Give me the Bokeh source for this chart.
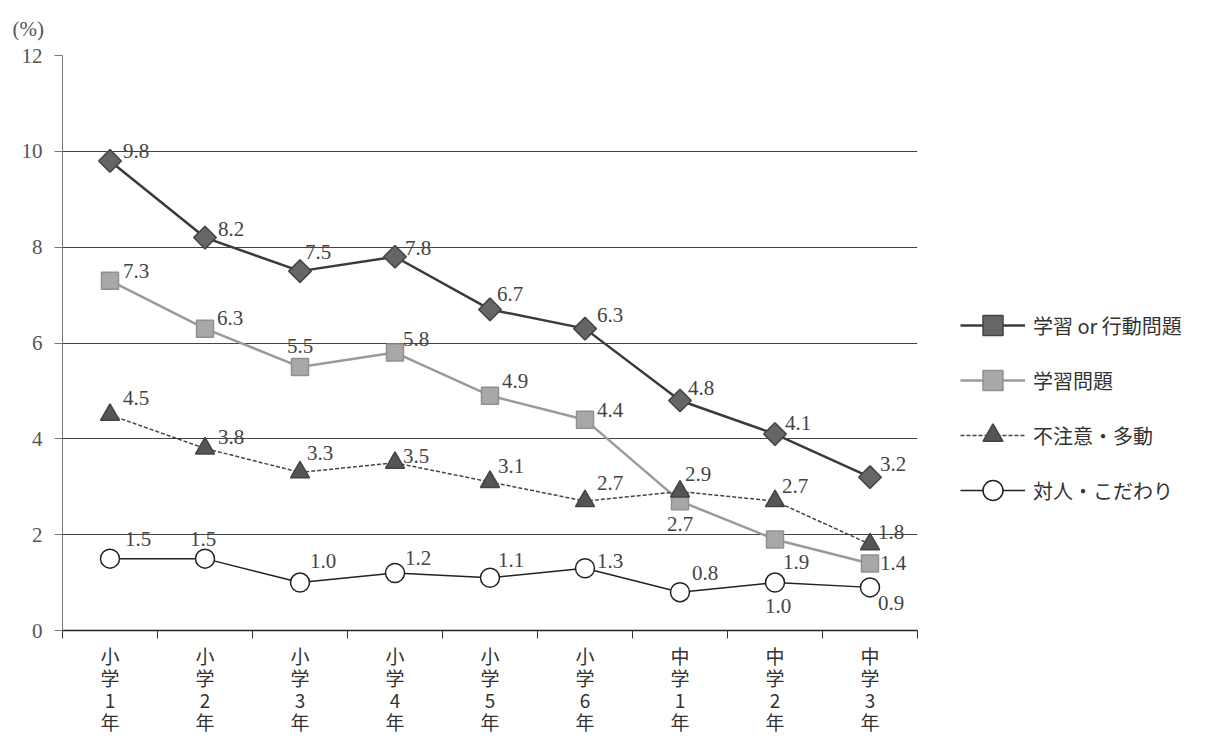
from bokeh.plotting import figure
from bokeh.models import (ColumnDataSource, FixedTicker, Legend, LegendItem,
                          Range1d)
from bokeh.core.properties import value
from bokeh.embed import file_html
from bokeh.resources import INLINE
import numpy as np

# School grades (elementary 1-6, junior high 1-3)
grades = ["小\n学\n1\n年", "小\n学\n2\n年", "小\n学\n3\n年", "小\n学\n4\n年",
          "小\n学\n5\n年", "小\n学\n6\n年", "中\n学\n1\n年", "中\n学\n2\n年",
          "中\n学\n3\n年"]

# Share of pupils (%) per category
learn_or_behavior = [9.8, 8.2, 7.5, 7.8, 6.7, 6.3, 4.8, 4.1, 3.2]
learning = [7.3, 6.3, 5.5, 5.8, 4.9, 4.4, 2.7, 1.9, 1.4]
inattention = [4.5, 3.8, 3.3, 3.5, 3.1, 2.7, 2.9, 2.7, 1.8]
social = [1.5, 1.5, 1.0, 1.2, 1.1, 1.3, 0.8, 1.0, 0.9]

series_names = ["学習 or 行動問題", "学習問題", "不注意・多動", "対人・こだわり"]

# Value label placement (pixel offsets of the label's left edge / middle)
label_dx = [
    [13, 13, 5, 10, 7, 12, 8, 10, 10],
    [13, 12, -13, 8, 12, 12, -13, 8, 10],
    [13, 13, 7, 8, 8, 12, 5, 7, 8],
    [15, -15, 10, 10, 8, 12, 12, -10, 8],
]
label_dy = [
    [-10, -9, -19, -9, -15, -14, -13, -11, -13],
    [-10, -11, -21, -14, -15, -10, 23, 23, 0],
    [-17, -11, -19, -7, -16, -18, -18, -15, -12],
    [-20, -20, -22, -15, -18, -7, -19, 23, 16],
]

x = np.arange(len(grades))
SERIF = "Liberation Serif"
CJK = "Noto Sans CJK JP"

p = figure(frame_width=855, frame_height=575, output_backend="svg",
           toolbar_location=None,
           x_range=Range1d(-0.5, 8.5), y_range=Range1d(0, 12),
           min_border_left=62, min_border_right=0, min_border_top=55,
           min_border_bottom=109, outline_line_color=None,
           background_fill_color="white", border_fill_color="white")

# Title used as the unit marker above the value axis
p.title.text = "(%)"
p.title.align = "left"
p.title.offset = -50
p.title.text_font = SERIF
p.title.text_font_size = "21px"
p.title.text_font_style = "normal"
p.title.text_color = "#555555"
p.title.standoff = 29

# Axes
p.xaxis.ticker = FixedTicker(ticks=list(x), minor_ticks=list(np.arange(-0.5, 9, 1.0)))
p.xaxis.major_label_overrides = {int(i): g for i, g in zip(x, grades)}
p.xaxis.major_tick_line_color = None
p.xaxis.minor_tick_in = 0
p.xaxis.minor_tick_out = 8
p.xaxis.minor_tick_line_color = "#333333"
p.xaxis.axis_line_color = "#222222"
p.xaxis.axis_line_width = 1.5
p.xaxis.major_label_text_font = CJK
p.xaxis.major_label_text_font_size = "19px"
p.xaxis.major_label_text_color = "#333333"
p.xaxis.major_label_text_line_height = 0.82
p.xaxis.major_label_standoff = 3

p.yaxis.ticker = FixedTicker(ticks=[0, 2, 4, 6, 8, 10, 12])
p.yaxis.minor_tick_line_color = None
p.yaxis.major_tick_in = 0
p.yaxis.major_tick_out = 8
p.yaxis.major_tick_line_color = "#777777"
p.yaxis.axis_line_color = "#777777"
p.yaxis.major_label_text_font = SERIF
p.yaxis.major_label_text_font_size = "21px"
p.yaxis.major_label_text_color = "#555555"
p.yaxis.major_label_standoff = 12

p.xgrid.grid_line_color = None
p.ygrid.grid_line_color = "#444444"
p.ygrid.grid_line_width = 1

# Series styles
styles = [
    dict(data=learn_or_behavior, line_color="#3a3a3a", line_width=2.5, dash="solid",
         marker="square", angle=np.pi / 4, size=16, fill="#666666", edge="#444444"),
    dict(data=learning, line_color="#9a9a9a", line_width=2.5, dash="solid",
         marker="square", angle=0.0, size=17, fill="#a8a8a8", edge="#909090"),
    dict(data=inattention, line_color="#444444", line_width=1.5, dash="4 2",
         marker="triangle", angle=0.0, size=19, fill="#555555", edge="#444444"),
    dict(data=social, line_color="#222222", line_width=1.5, dash="solid",
         marker="circle", angle=0.0, size=19, fill="white", edge="#222222"),
]

items = []
for k, st in enumerate(styles):
    src = ColumnDataSource(dict(
        x=x, y=st["data"], txt=[f"{v:.1f}" for v in st["data"]],
        dx=label_dx[k], dy=label_dy[k]))
    ln = p.line("x", "y", source=src, line_color=st["line_color"],
                line_width=st["line_width"], line_dash=st["dash"])
    mk = p.scatter("x", "y", source=src, marker=st["marker"], size=st["size"],
                   angle=st["angle"], fill_color=st["fill"],
                   line_color=st["edge"], line_width=1.5)
    p.text("x", "y", text="txt", source=src, x_offset="dx", y_offset="dy",
           text_font=value(SERIF), text_font_size="21px", text_color="#444444",
           text_align="left", text_baseline="middle")
    items.append(LegendItem(label=series_names[k], renderers=[ln, mk]))

# Legend sits in the right margin, beside the plotting frame
legend = Legend(items=items, location=(43, 115), orientation="vertical",
                glyph_width=65, glyph_height=50, spacing=5, label_standoff=8,
                label_text_font=CJK, label_text_font_size="20px",
                label_text_color="#333333", border_line_color=None,
                background_fill_alpha=0, padding=0, margin=0)
p.add_layout(legend, "right")

open("out.html", "w").write(file_html(p, INLINE))
